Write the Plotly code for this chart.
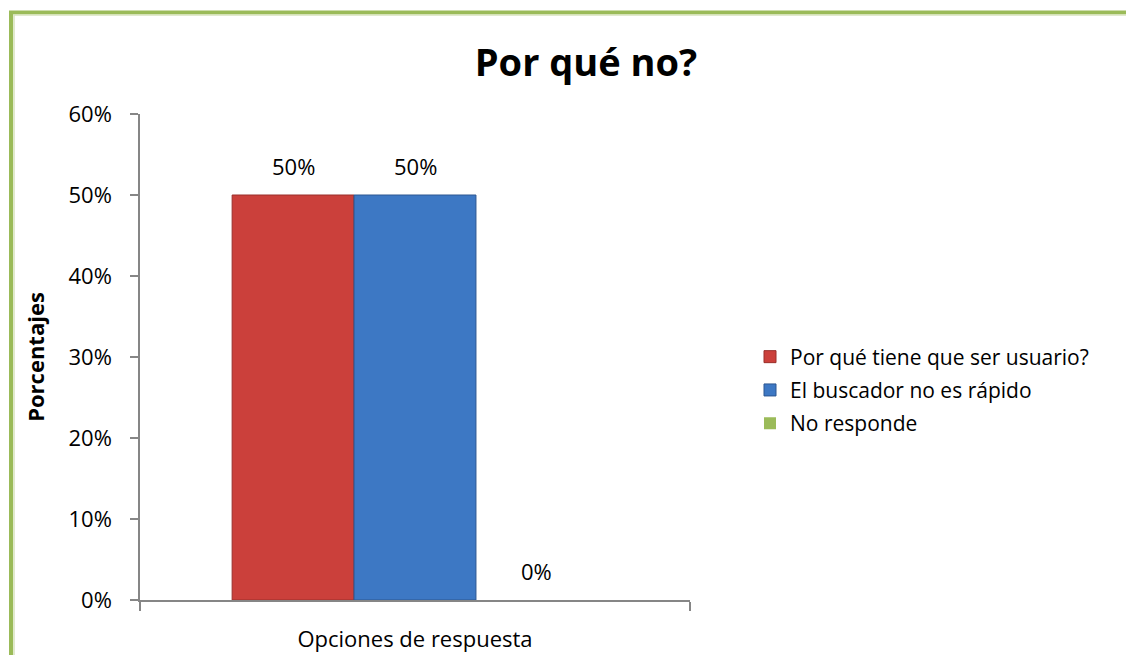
import plotly.graph_objects as go

title_text = "Por qué no?"
series_names = ["Por qué tiene que ser usuario?", "El buscador no es rápido", "No responde"]
series_values = [0.50, 0.50, 0.0]
series_colors = ["#CB403B", "#3D78C4", "#9BBB59"]
line_colors = ["#9A2F2B", "#2C5791", "#9BBB59"]
line_widths = [1, 1, 0]
category = ["Opciones de respuesta"]
y_ticks = [0, 0.1, 0.2, 0.3, 0.4, 0.5, 0.6]

FONT = "Open Sans"
W, H = 1126, 647            # page body has an 8px margin
L, R, T, B = 132, 444, 106, 55
BARGAP = 0.335

fig = go.Figure()
for i, (name, val) in enumerate(zip(series_names, series_values)):
    fig.add_trace(go.Bar(
        x=category, y=[val], name=name,
        marker=dict(color=series_colors[i], line=dict(color=line_colors[i], width=line_widths[i])),
        legendgroup=name,
    ))

# data labels above each bar (positions derived from the group layout)
n = len(series_values)
bw = (1 - BARGAP) / n
for i, val in enumerate(series_values):
    fig.add_annotation(x=(i - (n - 1) / 2) * bw, y=val, xref="x", yref="y",
                       text=f"{val:.0%}", showarrow=False, yanchor="bottom", yshift=12,
                       font=dict(size=22, family=FONT, color="black"))

pw = W - L - R
ph = H - T - B

fig.update_layout(
    width=W, height=H,
    margin=dict(l=L, r=R, t=T, b=B, autoexpand=False),
    paper_bgcolor="white", plot_bgcolor="white",
    font=dict(family=FONT, color="black"),
    barmode="group", bargap=BARGAP, bargroupgap=0,
    title=dict(text="<b>" + title_text + "</b>", x=578 / W, xanchor="center", xref="container",
               y=1 - 55 / H, yanchor="middle", yref="container",
               font=dict(size=38, family=FONT, color="black")),
    showlegend=True,
    legend=dict(x=(742 - L) / pw, xanchor="left", y=(592 - 382) / ph, yanchor="middle",
                font=dict(size=21, family=FONT, color="black"),
                traceorder="grouped", tracegroupgap=3, itemwidth=30),
    xaxis=dict(showticklabels=False, showline=True, linecolor="#868686", linewidth=1.5,
               ticks="outside", tickson="boundaries", ticklen=9, tickcolor="#868686", tickwidth=1.5,
               title=dict(text=category[0], font=dict(size=22, family=FONT), standoff=31),
               automargin=False, showgrid=False, zeroline=False),
    yaxis=dict(range=[0, 0.6], tickvals=y_ticks, tickformat=".0%",
               showline=True, linecolor="#868686", linewidth=1.5,
               ticks="outside", ticklen=8, tickcolor="#868686", tickwidth=1.5,
               tickfont=dict(size=22, family=FONT), ticklabelstandoff=14,
               title=dict(text="<b>Porcentajes</b>", font=dict(size=22, family=FONT), standoff=18),
               automargin=False, showgrid=False, zeroline=False),
)

# green frame (left and top edges visible)
fig.add_shape(type="rect", xref="paper", yref="paper",
              x0=(3 - L) / pw, x1=(1160 - L) / pw,
              y0=(H - B - 700) / ph, y1=(H - B - 4.5) / ph,
              line=dict(color="#9BBB59", width=4), fillcolor="rgba(0,0,0,0)", layer="below")
fig.add_shape(type="rect", xref="paper", yref="paper",
              x0=(6 - L) / pw, x1=(1160 - L) / pw,
              y0=(H - B - 700) / ph, y1=(H - B - 7) / ph,
              line=dict(color="#D7E4BD", width=1.5), fillcolor="rgba(0,0,0,0)", layer="below")

fig.write_html("out.html")
